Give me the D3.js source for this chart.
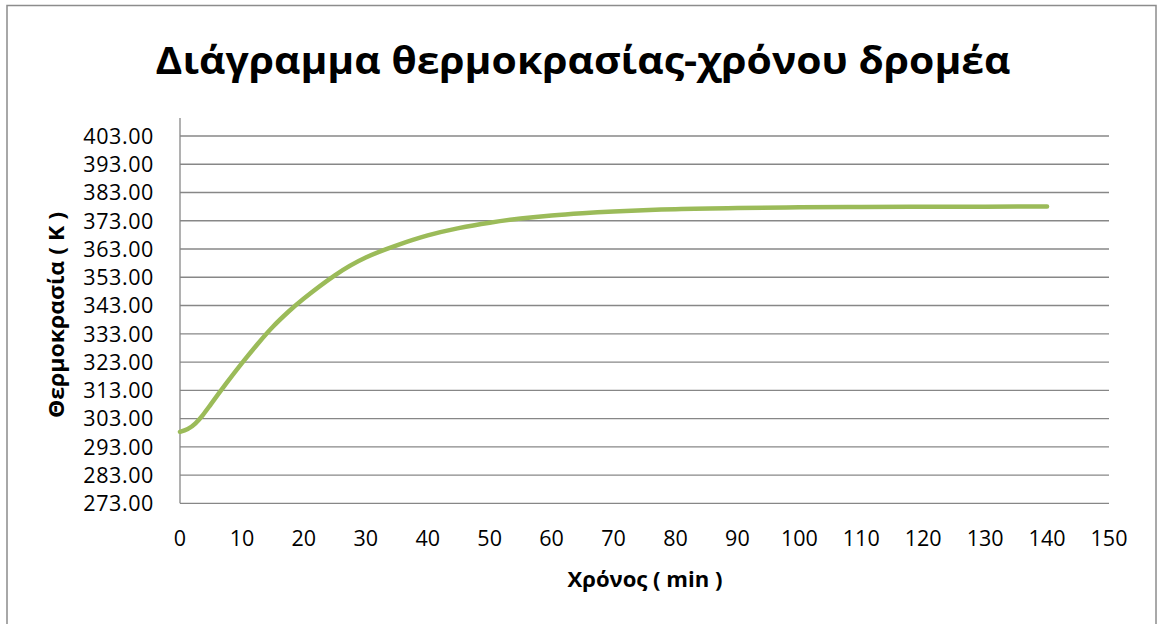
<!DOCTYPE html>
<html><head><meta charset="utf-8">
<script src="https://cdn.jsdelivr.net/npm/d3@7"></script>
<style>body{margin:0;background:#fff}svg{display:block}</style>
</head><body>
<svg id="c" width="1160" height="624"></svg>
<script>
const timeMin = [0,1.25,2.5,3.75,5,7.5,10,12.5,15,17.5,20,25,30,35,40,45,50,55,60,65,70,80,90,100,110,120,130,140];
const tempK   = [298.3,299.3,301.3,304.4,308.1,315.5,322.6,329.3,335.5,340.8,345.5,353.7,360,364.3,367.8,370.4,372.3,373.8,374.9,375.7,376.3,377.1,377.5,377.75,377.88,377.95,378,378.02];
const yTicks = [273,283,293,303,313,323,333,343,353,363,373,383,393,403];
const xTicks = [0,10,20,30,40,50,60,70,80,90,100,110,120,130,140,150];
const titleText = "Διάγραμμα θερμοκρασίας-χρόνου δρομέα";
const xTitle = "Χρόνος ( min )";
const yTitle = "Θερμοκρασία ( K )";

const svg = d3.select("#c");
const font = "'Open Sans', 'DejaVu Sans', sans-serif";
svg.append("rect").attr("x",7).attr("y",5.5).attr("width",1149).attr("height",640)
  .attr("fill","#fff").attr("stroke","#8c8c8c").attr("stroke-width",1.5);

const x = d3.scaleLinear().domain([0,150]).range([180,1109]);
const y = d3.scaleLinear().domain([273,403]).range([503.3,136]);

// gridlines
svg.append("g").selectAll("line").data(yTicks.slice(1)).join("line")
  .attr("x1",180).attr("x2",1109).attr("y1",d=>y(d)).attr("y2",d=>y(d))
  .attr("stroke","#878787").attr("stroke-width",1.3);
// axes lines
svg.append("line").attr("x1",180).attr("x2",180).attr("y1",118).attr("y2",y(273))
  .attr("stroke","#878787").attr("stroke-width",1.3);
svg.append("line").attr("x1",180).attr("x2",1109).attr("y1",y(273)).attr("y2",y(273))
  .attr("stroke","#878787").attr("stroke-width",1.3);

// tick labels
svg.append("g").selectAll("text").data(yTicks).join("text")
  .attr("x",154).attr("y",d=>y(d)).attr("dy","0.36em").attr("text-anchor","end")
  .attr("font-family",font).attr("font-size",21.5).attr("letter-spacing",0.6).attr("fill","#000")
  .text(d=>d3.format(".2f")(d));
svg.append("g").selectAll("text").data(xTicks).join("text")
  .attr("x",d=>x(d)).attr("y",546).attr("text-anchor","middle")
  .attr("font-family",font).attr("font-size",21.5).attr("fill","#000")
  .text(d=>d);

// line
const line = d3.line().x((d,i)=>x(timeMin[i])).y(d=>y(d)).curve(d3.curveNatural);
svg.append("path").datum(tempK).attr("d",line).attr("fill","none")
  .attr("stroke","#9bbb59").attr("stroke-width",4.5).attr("stroke-linecap","round");

// titles
svg.append("text").attr("x",583).attr("y",74).attr("text-anchor","middle")
  .attr("font-family",font).attr("font-weight","bold").attr("font-size",38)
  .attr("textLength",855).attr("lengthAdjust","spacingAndGlyphs").text(titleText);
svg.append("text").attr("x",645).attr("y",587).attr("text-anchor","middle")
  .attr("font-family",font).attr("font-weight","bold").attr("font-size",21)
  .attr("textLength",155).attr("lengthAdjust","spacingAndGlyphs").text(xTitle);
svg.append("text").attr("transform","translate(64,315) rotate(-90)").attr("text-anchor","middle")
  .attr("font-family",font).attr("font-weight","bold").attr("font-size",21)
  .attr("textLength",206).attr("lengthAdjust","spacingAndGlyphs").text(yTitle);
</script>
</body></html>
